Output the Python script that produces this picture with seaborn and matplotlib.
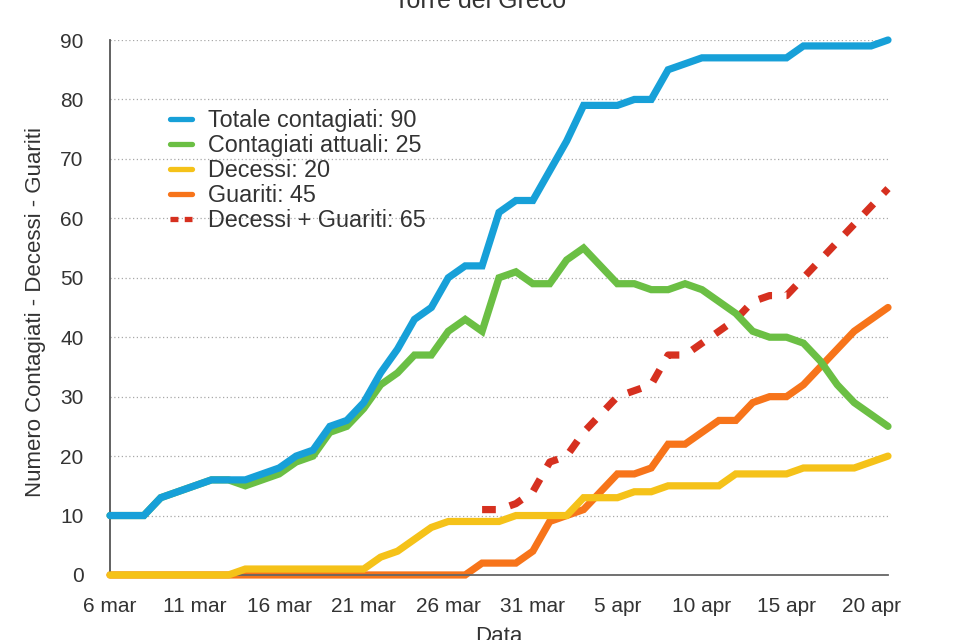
import numpy as np
import pandas as pd
import matplotlib
matplotlib.use("Agg")
import matplotlib.pyplot as plt
import seaborn as sns

# dati Torre del Greco, 6 mar - 21 apr
giorni = pd.date_range("2020-03-06", "2020-04-21", freq="D")

totale = [10, 10, 10, 13, 14, 15, 16, 16, 16, 17, 18, 20, 21, 25, 26, 29, 34, 38, 43, 45,
          50, 52, 52, 61, 63, 63, 68, 73, 79, 79, 79, 80, 80, 85, 86, 87, 87, 87, 87, 87,
          87, 89, 89, 89, 89, 89, 90]
attuali = [10, 10, 10, 13, 14, 15, 16, 16, 15, 16, 17, 19, 20, 24, 25, 28, 32, 34, 37, 37,
           41, 43, 41, 50, 51, 49, 49, 53, 55, 52, 49, 49, 48, 48, 49, 48, 46, 44, 41, 40,
           40, 39, 36, 32, 29, 27, 25]
decessi = [0, 0, 0, 0, 0, 0, 0, 0, 1, 1, 1, 1, 1, 1, 1, 1, 3, 4, 6, 8,
           9, 9, 9, 9, 10, 10, 10, 10, 13, 13, 13, 14, 14, 15, 15, 15, 15, 17, 17, 17,
           17, 18, 18, 18, 18, 19, 20]
guariti = [0, 0, 0, 0, 0, 0, 0, 0, 0, 0, 0, 0, 0, 0, 0, 0, 0, 0, 0, 0,
           0, 0, 2, 2, 2, 4, 9, 10, 11, 14, 17, 17, 18, 22, 22, 24, 26, 26, 29, 30,
           30, 32, 35, 38, 41, 43, 45]
dec_guar = [np.nan] * 22 + [11, 11, 12, 14, 19, 20, 24, 27, 30, 31, 32, 37, 37, 39, 41, 43, 46, 47,
                            47, 50, 53, 56, 59, 62, 65]

etichette_x = ["6 mar", "11 mar", "16 mar", "21 mar", "26 mar", "31 mar",
               "5 apr", "10 apr", "15 apr", "20 apr"]

sns.set_style("white")
plt.rcParams['font.family'] = ['Liberation Sans', 'DejaVu Sans']
plt.rcParams['text.color'] = '#333333'

fig = plt.figure(figsize=(9.6, 6.4), dpi=100)
ax = fig.add_axes([0.1146, 0.1016, 0.8104, 0.8359])

lw = 5.2
serie = [
    (totale, 'Totale contagiati: 90', '#17a0d8', 3.2, '-'),
    (attuali, 'Contagiati attuali: 25', '#6bbf44', 3.0, '-'),
    (decessi, 'Decessi: 20', '#f5c219', 2.6, '-'),
    (guariti, 'Guariti: 45', '#f7741a', 2.4, '-'),
    (dec_guar, 'Decessi + Guariti: 65', '#d6301f', 2.2, (0, (1.9, 2.0))),
]
for valori, nome, colore, z, stile in serie:
    df = pd.DataFrame({'giorno': giorni, 'valore': valori}).dropna()
    sns.lineplot(data=df, x='giorno', y='valore', ax=ax, color=colore, linewidth=lw,
                 linestyle=stile, label=nome, zorder=z, clip_on=False,
                 estimator=None, solid_joinstyle='miter', dash_capstyle='butt')

ax.set_xlim(giorni[0], giorni[-1])
ax.set_ylim(0, 90)
ax.set_yticks(np.arange(0, 91, 10))
ax.set_xticks(giorni[::5], labels=etichette_x)
ax.set_xticks(giorni, minor=True)

ax.yaxis.grid(True, color='#a8a8a8', linestyle=(0, (1, 2)), linewidth=0.9)
ax.xaxis.grid(False)
for lato in ['top', 'right']:
    ax.spines[lato].set_visible(False)
ax.spines['left'].set_color('#555555')
ax.spines['left'].set_linewidth(1.3)
ax.spines['bottom'].set_color('#666666')
ax.spines['bottom'].set_linewidth(1.3)

ax.tick_params(axis='y', length=0, pad=19, labelsize=15, labelcolor='#333333')
ax.tick_params(axis='x', which='both', direction='in', length=5, width=1,
               color='#555555', pad=16, labelsize=15, labelcolor='#333333')

ax.set_ylabel('Numero Contagiati - Decessi - Guariti', fontsize=16, color='#333333')
ax.yaxis.label.set_verticalalignment('center')
ax.yaxis.set_label_coords(-0.0964, 0.4916)
ax.set_xlabel('Data', fontsize=16, color='#333333')
ax.xaxis.set_label_coords(0.5, -0.0953)

leg = ax.legend(loc='upper left', bbox_to_anchor=(0.077, 0.871), frameon=False,
                fontsize=16.8, borderpad=0, handlelength=0.95, handletextpad=0.68,
                labelspacing=0.09, borderaxespad=0)
for linea in leg.get_lines():
    linea.set_linewidth(3.8)
leg.get_lines()[-1].set_linestyle((0, (1.5, 1.2)))

fig.text(0.5, 0.9875, 'Torre del Greco', ha='center', va='baseline', fontsize=18,
         color='#333333')

plt.savefig('out.png', dpi=100)
